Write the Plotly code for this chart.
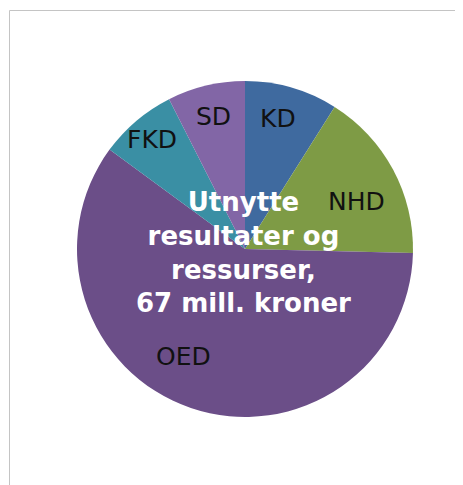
import math
import plotly.graph_objects as go

# Fordeling av 67 mill. kroner (mill. kr)
departments = ['KD', 'NHD', 'OED', 'FKD', 'SD']
amounts = [6, 11, 40, 5, 5]
colors = ['#3F6A9F', '#7E9B45', '#6B4E88', '#3A8FA4', '#8266A6']
center_text = 'Utnytte<br>resultater og<br>ressurser,<br>67 mill. kroner'

PAGE_W, PAGE_H = 463, 485
OFF = 8  # default body margin of the html page
W, H = PAGE_W - OFF, PAGE_H - OFF
cx, cy, radius = 245, 249, 168  # pie centre / radius in page px

# label placement: distance from centre (px) and small angular nudge (deg)
label_r = {'KD': 135, 'NHD': 121, 'OED': 124, 'FKD': 144, 'SD': 136}
label_nudge = {'KD': -2, 'NHD': 5, 'OED': 11, 'FKD': 0, 'SD': 0}


def px_x(x):
    return (x - OFF) / W


def px_y(y):
    return 1 - (y - OFF) / H


fig = go.Figure()

fig.add_trace(go.Pie(
    labels=departments,
    values=amounts,
    sort=False,
    direction='clockwise',
    rotation=0,
    marker=dict(colors=colors, line=dict(width=0)),
    textinfo='none',
    hoverinfo='label+value',
    showlegend=False,
    domain=dict(x=[px_x(cx - radius), px_x(cx + radius)],
                y=[px_y(cy + radius), px_y(cy - radius)]),
))

# slice labels at the mid angle of each slice
total = sum(amounts)
cum = 0
annotations = []
for name, val in zip(departments, amounts):
    mid = (cum + val / 2) / total * 360 + label_nudge[name]
    cum += val
    r = label_r[name]
    lx = cx + r * math.sin(math.radians(mid))
    ly = cy - r * math.cos(math.radians(mid))
    annotations.append(dict(
        x=px_x(lx), y=px_y(ly), xref='paper', yref='paper',
        text=name, showarrow=False,
        font=dict(family='DejaVu Sans', size=25, color='#111111'),
        xanchor='center', yanchor='middle'))

annotations.append(dict(
    x=px_x(243), y=px_y(253), xref='paper', yref='paper',
    text=f'<b>{center_text}</b>', showarrow=False,
    font=dict(family='DejaVu Sans', size=26, color='#ffffff'),
    xanchor='center', yanchor='middle', align='center'))

# chart frame (only top and left edges visible in the crop)
frame = dict(color='#C4C4C4', width=1)
shapes = [
    dict(type='line', xref='paper', yref='paper',
         x0=px_x(9.5), x1=1, y0=px_y(10.5), y1=px_y(10.5), line=frame),
    dict(type='line', xref='paper', yref='paper',
         x0=px_x(9.5), x1=px_x(9.5), y0=0, y1=px_y(10.5), line=frame),
]

fig.update_layout(
    width=W, height=H,
    margin=dict(l=0, r=0, t=0, b=0),
    paper_bgcolor='white',
    plot_bgcolor='white',
    annotations=annotations,
    shapes=shapes,
)

fig.write_html('out.html')
